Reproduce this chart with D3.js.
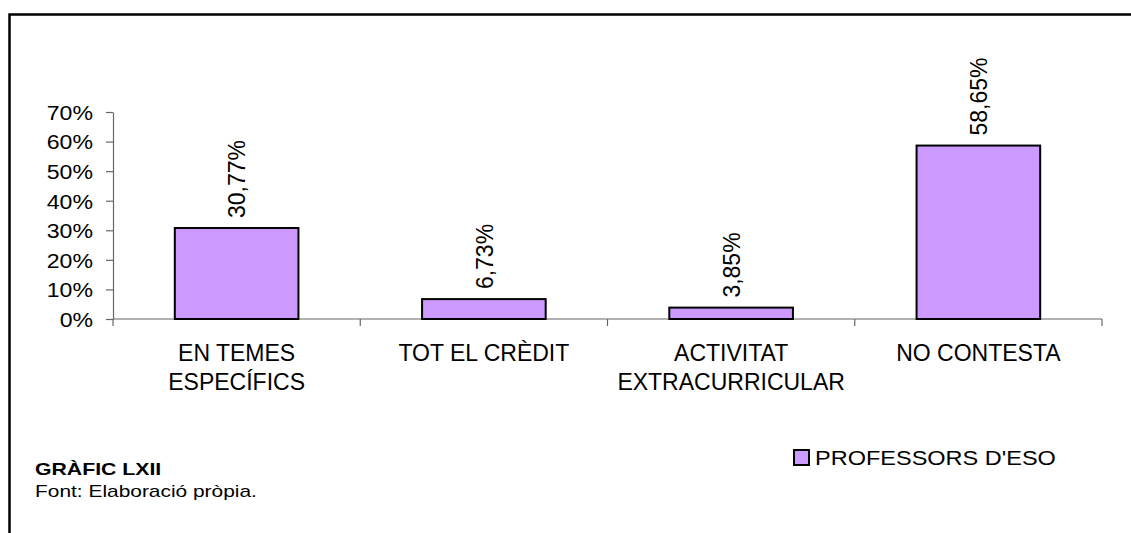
<!DOCTYPE html>
<html>
<head>
<meta charset="utf-8">
<script src="https://cdn.jsdelivr.net/npm/d3@7"></script>
<style>
  html, body { margin: 0; padding: 0; background: #fff; }
  svg { display: block; }
  text { font-family: "Liberation Sans", Arial, sans-serif; fill: #000; }
</style>
</head>
<body>
<svg id="chart" width="1131" height="533"></svg>
<script>
// ---- data ----
const categories = [["EN TEMES", "ESPECÍFICS"], ["TOT EL CRÈDIT"], ["ACTIVITAT", "EXTRACURRICULAR"], ["NO CONTESTA"]];
const values = [0.3077, 0.0673, 0.0385, 0.5865];
const valueLabels = ["30,77%", "6,73%", "3,85%", "58,65%"];
const yTicks = [0, 0.1, 0.2, 0.3, 0.4, 0.5, 0.6, 0.7];
const seriesName = "PROFESSORS D'ESO";
const chartTitle = "GRÀFIC LXII";
const sourceNote = "Font: Elaboració pròpia.";

// ---- layout ----
const svg = d3.select("#chart");
const x0 = 113, x1 = 1102, yBase = 319, yTop = 112;
const barFill = "#CC99FF";
const axisColor = "#666";

// frame (top and left borders)
svg.append("path")
  .attr("d", "M9.5,533 L9.5,14.5 L1131,14.5")
  .attr("fill", "none").attr("stroke", "#000").attr("stroke-width", 2.5);

const x = d3.scaleBand().domain(d3.range(categories.length)).range([x0, x1]).paddingInner(0).paddingOuter(0);
const y = d3.scaleLinear().domain([0, 0.7]).range([yBase, yTop]);

// y axis
const yAxis = svg.append("g").attr("transform", `translate(${x0},0)`)
  .call(d3.axisLeft(y).tickValues(yTicks).tickFormat(d3.format(".0%")).tickSize(7).tickSizeOuter(0));
yAxis.select(".domain").attr("stroke", axisColor).attr("stroke-width", 1.2);
yAxis.selectAll(".tick line").attr("stroke", axisColor).attr("stroke-width", 1.2);
const sxTick = 1.1;
yAxis.selectAll(".tick text")
  .attr("font-size", 21).attr("font-family", "Liberation Sans, Arial, sans-serif").attr("fill", "#000")
  .attr("x", -20 / sxTick).attr("dy", "0.35em")
  .attr("transform", `scale(${sxTick},1)`);

// x axis (boundary ticks)
const bounds = d3.range(categories.length + 1).map(i => i === categories.length ? x1 : x(i));
const xAxisG = svg.append("g");
xAxisG.append("line").attr("x1", x0).attr("x2", x1).attr("y1", yBase).attr("y2", yBase)
  .attr("stroke", axisColor).attr("stroke-width", 1.2);
xAxisG.selectAll("line.tk").data(bounds).join("line").attr("class", "tk")
  .attr("x1", d => d).attr("x2", d => d).attr("y1", yBase).attr("y2", yBase + 7)
  .attr("stroke", axisColor).attr("stroke-width", 1.2);

// bars
const barW = x.bandwidth() * 0.5;
svg.selectAll("rect.bar").data(values).join("rect").attr("class", "bar")
  .attr("x", (d, i) => x(i) + (x.bandwidth() - barW) / 2)
  .attr("y", d => y(d))
  .attr("width", barW)
  .attr("height", d => yBase - y(d))
  .attr("fill", barFill).attr("stroke", "#000").attr("stroke-width", 2);

// value labels (rotated)
svg.selectAll("text.val").data(values).join("text").attr("class", "val")
  .attr("transform", (d, i) => `translate(${x(i) + x.bandwidth() / 2 + 0.5},${y(d) - 10}) rotate(-90)`)
  .attr("dy", "0.36em")
  .attr("font-size", 23)
  .text((d, i) => valueLabels[i]);

// category labels
categories.forEach((lines, i) => {
  const t = svg.append("text")
    .attr("text-anchor", "middle")
    .attr("font-size", 23);
  lines.forEach((ln, j) => {
    t.append("tspan").attr("x", x(i) + x.bandwidth() / 2).attr("y", 361 + j * 29).text(ln);
  });
});

// legend
svg.append("rect").attr("x", 794).attr("y", 450).attr("width", 15).attr("height", 15)
  .attr("fill", barFill).attr("stroke", "#000").attr("stroke-width", 2);
svg.append("text").attr("transform", "translate(815,465) scale(1.12,1)")
  .attr("font-size", 21).text(seriesName);

// title and source
svg.append("text").attr("transform", "translate(35,475) scale(1.25,1)")
  .attr("font-size", 17).attr("font-weight", "bold").text(chartTitle);
svg.append("text").attr("transform", "translate(35,497) scale(1.23,1)")
  .attr("font-size", 17).text(sourceNote);
</script>
</body>
</html>
